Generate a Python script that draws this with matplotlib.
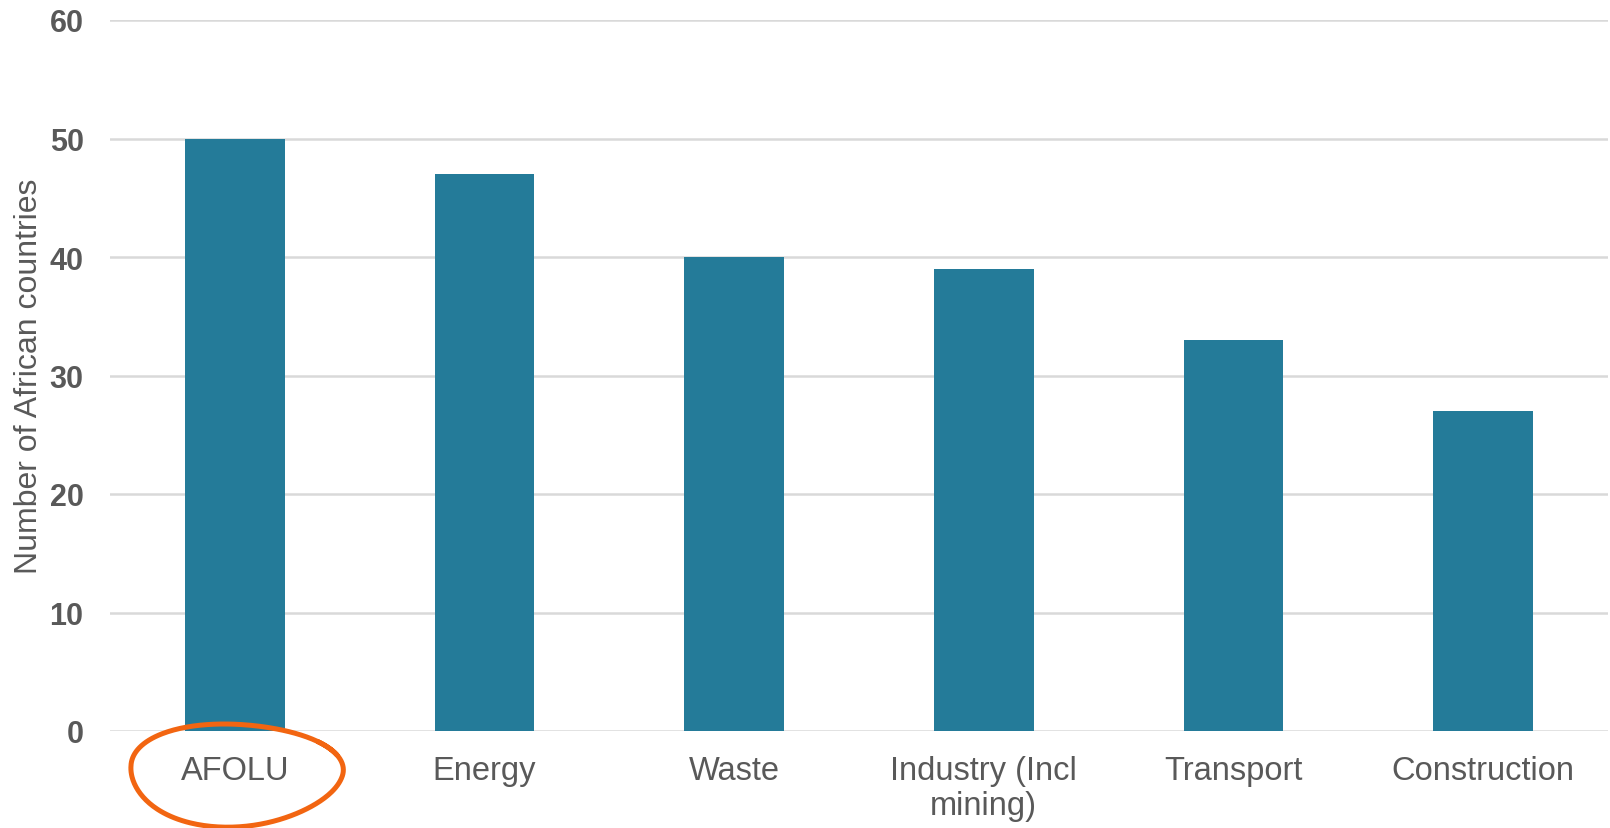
import numpy as np
import matplotlib
matplotlib.use("Agg")
import matplotlib.pyplot as plt

categories = ["AFOLU", "Energy", "Waste", "Industry (Incl\nmining)", "Transport", "Construction"]
values = [50, 47, 40, 39, 33, 27]
yticks = [0, 10, 20, 30, 40, 50, 60]
ylabel = "Number of African countries"

plt.rcParams['font.family'] = ['Liberation Sans', 'DejaVu Sans']
TXT = "#595959"
BAR = "#247B99"
GRID = "#D9D9D9"

W, H = 1610, 829
fig = plt.figure(figsize=(W / 100, H / 100), dpi=100)
ax = fig.add_axes([110 / W, (H - 732) / H, (1608 - 110) / W, (732 - 21) / H])

x = np.arange(len(categories))
ax.bar(x, values, width=0.4, color=BAR, zorder=3)
ax.set_xlim(-0.5, len(categories) - 0.5)
ax.set_ylim(0, 60)
ax.set_yticks(yticks)
ax.set_yticklabels([str(t) for t in yticks], fontsize=22, fontweight="bold", color=TXT)
ax.set_xticks(x)
ax.set_xticklabels(categories, fontsize=23.5, color=TXT, linespacing=1.2, va="top")
ax.tick_params(axis="y", length=0, pad=19)
ax.tick_params(axis="x", length=0, pad=17)
for s in ax.spines.values():
    s.set_visible(False)
ax.yaxis.grid(True, color=GRID, linewidth=1.8, zorder=0)
ax.set_axisbelow(True)
ax.set_ylabel(ylabel, fontsize=23, color=TXT)
ax.yaxis.set_label_coords(-66 / (1608 - 110), 0.5)

# hand-drawn orange circle around the first category label (annotation)
t = np.linspace(0.15 * np.pi, 2.25 * np.pi, 300)
cx, cy = 0.0, -3.4
rx, ry = 0.425, 4.4
ang = np.deg2rad(-7)
wob = 1 + 0.03 * np.sin(3 * t + 0.5)
px = rx * wob * np.cos(t)
py = ry * wob * np.sin(t)
py = np.where(py > 0, py * 0.92, py * 1.05)
xs = cx + px * np.cos(ang) - py * np.sin(ang) * (rx / ry)
ys = cy + py * np.cos(ang) + px * np.sin(ang) * (ry / rx)
ax.plot(xs, ys, color="#F26511", linewidth=3.6, solid_capstyle="round", clip_on=False, zorder=5)

fig.savefig("out.png", dpi=100, facecolor="white")
